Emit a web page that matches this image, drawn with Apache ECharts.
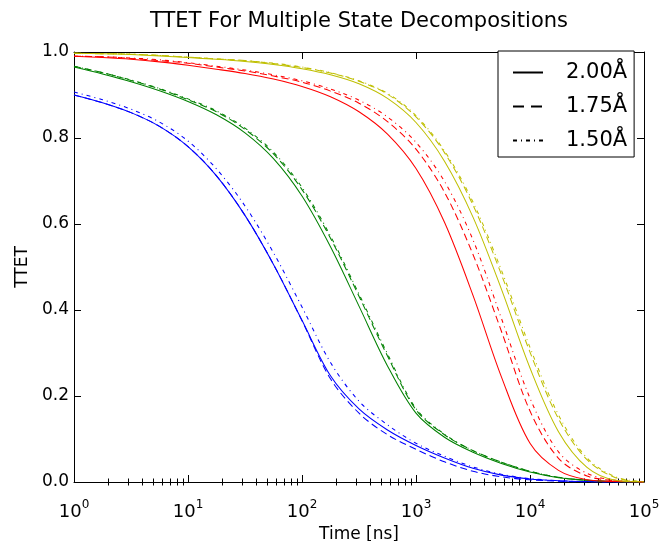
<!DOCTYPE html>
<html><head><meta charset="utf-8">
<script src="https://cdn.jsdelivr.net/npm/echarts@6/dist/echarts.min.js"></script>
<style>html,body{margin:0;padding:0;background:#fff}#c{width:661px;height:541px}</style>
</head><body><div id="c"></div>
<script>
// ---- data (time in ns, quarter-decade samples) ----
const times = [1,1.778,3.162,5.623,10,17.78,31.62,56.23,100,177.8,316.2,562.3,1000,1778,3162,5623,10000,17783,31623,56234,100000];
const minorTickValues = [2,3,4,5,6,7,8,9,20,30,40,50,60,70,80,90,200,300,400,500,600,700,800,900,2000,3000,4000,5000,6000,7000,8000,9000,20000,30000,40000,50000,60000,70000,80000,90000];
const yTicks = [0,0.2,0.4,0.6,0.8,1.0];
const legendNames = ['2.00Å','1.75Å','1.50Å'];

const blue200 = [0.900,0.882,0.859,0.827,0.780,0.712,0.620,0.506,0.376,0.247,0.170,0.121,0.085,0.056,0.032,0.016,0.007,0.003,0.001,0,0];
const blue175 = [0.900,0.882,0.859,0.827,0.780,0.712,0.620,0.506,0.375,0.240,0.160,0.110,0.076,0.047,0.025,0.012,0.005,0.002,0,0,0];
const blue150 = [0.907,0.889,0.867,0.837,0.793,0.728,0.642,0.533,0.407,0.278,0.188,0.133,0.090,0.060,0.035,0.018,0.008,0.003,0.001,0,0];

const green200 = [0.965,0.949,0.931,0.910,0.885,0.854,0.812,0.752,0.665,0.547,0.409,0.270,0.160,0.104,0.069,0.043,0.023,0.010,0.004,0.001,0];
const green175 = [0.967,0.952,0.934,0.914,0.889,0.861,0.820,0.763,0.680,0.567,0.432,0.293,0.168,0.110,0.073,0.046,0.025,0.011,0.004,0.001,0];
const green150 = [0.967,0.952,0.935,0.915,0.891,0.863,0.823,0.767,0.685,0.572,0.437,0.298,0.171,0.111,0.073,0.046,0.025,0.011,0.004,0.001,0];

const red200 = [0.990,0.987,0.983,0.977,0.969,0.960,0.950,0.937,0.920,0.896,0.861,0.809,0.729,0.604,0.434,0.244,0.090,0.027,0.005,0.001,0];
const red175 = [0.990,0.989,0.985,0.980,0.974,0.965,0.956,0.944,0.930,0.909,0.881,0.838,0.774,0.674,0.529,0.350,0.165,0.055,0.014,0.003,0];
const red150 = [0.990,0.989,0.986,0.982,0.975,0.967,0.958,0.947,0.933,0.914,0.888,0.849,0.790,0.699,0.563,0.380,0.195,0.070,0.020,0.004,0];

const yellow200 = [0.997,0.996,0.994,0.991,0.987,0.983,0.978,0.971,0.961,0.947,0.926,0.892,0.836,0.746,0.616,0.448,0.265,0.117,0.034,0.004,0];
const yellow175 = [0.997,0.996,0.995,0.992,0.988,0.984,0.980,0.973,0.964,0.951,0.932,0.902,0.849,0.766,0.644,0.482,0.302,0.147,0.052,0.010,0];
const yellow150 = [0.997,0.996,0.995,0.992,0.988,0.984,0.980,0.974,0.965,0.952,0.933,0.904,0.852,0.770,0.651,0.492,0.313,0.156,0.056,0.012,0];

// ---- styling ----
const FONT = 'DejaVu Sans';
const dashTypes = ['solid', [7,4], [4,4,1,4]];
const legendDash = ['solid', [11,7], [4,4,1,4]];
const groups = [
  {color:'#0000ff', sets:[blue200, blue175, blue150]},
  {color:'#008000', sets:[green200, green175, green150]},
  {color:'#ff0000', sets:[red200, red175, red150]},
  {color:'#bfbf00', sets:[yellow200, yellow175, yellow150]}
];

const series = [];
groups.forEach((g, gi) => {
  g.sets.forEach((vals, si) => {
    series.push({
      type:'line', name:'s'+gi+'_'+si, xAxisIndex:0, yAxisIndex:0,
      data: times.map((t,i)=>[t, vals[i]]),
      showSymbol:false, symbol:'none', smooth:0.33,
      color:g.color,
      lineStyle:{color:g.color, width:1.05, type:dashTypes[si]},
      z: 2, silent:true
    });
  });
});
legendNames.forEach((n, i) => {
  series.push({type:'line', name:n, data:[], symbol:'none', color:'#000',
    itemStyle:{opacity:0},
    lineStyle:{color:'#000', width:1.2, type:legendDash[i]}});
});

const tickCommon = {inside:true, length:7, lineStyle:{color:'#000', width:1}};
const lineCommon = {show:true, onZero:false, lineStyle:{color:'#000', width:1}};

const option = {
  animation:false,
  backgroundColor:'#fff',
  title:{text:'TTET For Multiple State Decompositions', left:359, top:11, textAlign:'center', padding:0,
    textStyle:{fontFamily:FONT, fontSize:21, fontWeight:'normal', color:'#000'}},
  grid:{left:74, right:17, top:52, bottom:59, containLabel:false, outerBoundsMode:'none'},
  legend:{data:legendNames, orient:'vertical', left:498, top:51, padding:[11,7,6,14],
    itemWidth:30, itemHeight:20, itemGap:13, borderColor:'#000', borderWidth:1, borderRadius:0,
    backgroundColor:'#fff', selectedMode:false, itemStyle:{opacity:0},
    textStyle:{fontFamily:FONT, fontSize:21, color:'#000', lineHeight:20, padding:[0,0,0,18]}},
  xAxis:[
    {type:'log', min:1, max:100000, position:'bottom', axisLine:lineCommon, axisTick:tickCommon,
      splitLine:{show:false}, minorTick:{show:false},
      axisLabel:{margin:15, formatter:v=>'{b|10}{s|'+Math.round(Math.log10(v))+'}',
        rich:{b:{fontFamily:FONT, fontSize:18, color:'#000', padding:[6,0,0,0]},
              s:{fontFamily:FONT, fontSize:12, color:'#000', padding:[0,0,8,0]}}},
      name:'Time [ns]', nameLocation:'middle', nameGap:32,
      nameTextStyle:{fontFamily:FONT, fontSize:17, color:'#000'}},
    {type:'log', min:1, max:100000, position:'top', axisLine:lineCommon, axisTick:tickCommon,
      axisLabel:{show:false}, splitLine:{show:false}},
    {type:'log', min:1, max:100000, position:'bottom', axisLine:{show:false},
      axisTick:{inside:true, length:3.5, customValues:minorTickValues, lineStyle:{color:'#000'}},
      axisLabel:{show:false}, splitLine:{show:false}},
    {type:'log', min:1, max:100000, position:'top', axisLine:{show:false},
      axisTick:{inside:true, length:3.5, customValues:minorTickValues, lineStyle:{color:'#000'}},
      axisLabel:{show:false}, splitLine:{show:false}}
  ],
  yAxis:[
    {type:'value', min:yTicks[0], max:yTicks[yTicks.length-1], interval:0.2, position:'left',
      axisLine:lineCommon, axisTick:tickCommon, splitLine:{show:false},
      axisLabel:{margin:5, fontFamily:FONT, fontSize:17, color:'#000', formatter:v=>v.toFixed(1)},
      name:'TTET', nameLocation:'middle', nameGap:28, nameRotate:90,
      nameTextStyle:{fontFamily:FONT, fontSize:17, color:'#000'}},
    {type:'value', min:yTicks[0], max:yTicks[yTicks.length-1], interval:0.2, position:'right',
      axisLine:lineCommon, axisTick:tickCommon, splitLine:{show:false}, axisLabel:{show:false}}
  ],
  series:series
};
const chart = echarts.init(document.getElementById('c'));
chart.setOption(option);
</script></body></html>
